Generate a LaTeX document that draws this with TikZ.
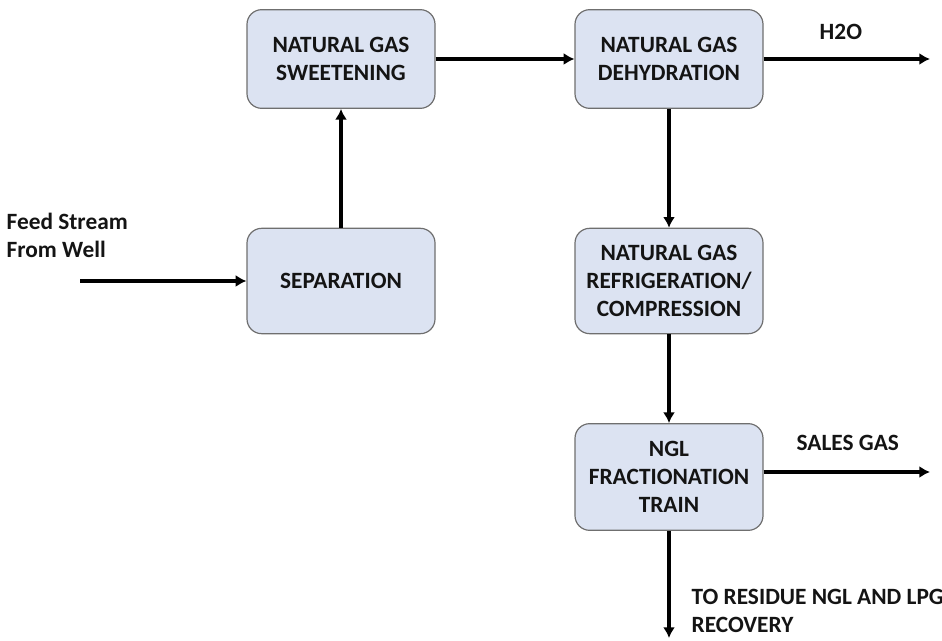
\documentclass[tikz,border=0pt]{standalone}
\usepackage{fontspec}
\setmainfont{Carlito}
\usepackage{tikz}
\usetikzlibrary{arrows.meta}
\definecolor{boxfill}{HTML}{DCE3F2}
\definecolor{boxline}{HTML}{6F6F6F}
\definecolor{ink}{HTML}{141414}
\tikzset{
  unit/.style={draw=boxline, fill=boxfill, line width=0.9pt, rounded corners=11pt, minimum width=141pt, minimum height=74pt, align=center, text=ink, font=\fontsize{17.5}{21}\selectfont\bfseries},
  flow/.style={line width=3pt, -{Latex[length=8pt,width=9pt]}},
  tag/.style={align=left, anchor=west, text=ink, font=\fontsize{17.5}{21}\selectfont\bfseries}
}
\begin{document}
\begin{tikzpicture}[x=0.75pt, y=-0.75pt]
    \useasboundingbox (0,0) rectangle (942,641);
    % Draw the process units
    \node[unit] (sweet) at (341,59) {NATURAL GAS\\SWEETENING};
    \node[unit] (dehyd) at (669,59) {NATURAL GAS\\DEHYDRATION};
    \node[unit, minimum height=79pt] (sep) at (341,281) {SEPARATION};
    \node[unit, minimum height=79pt] (refrig) at (669,281) {NATURAL GAS\\REFRIGERATION/\\COMPRESSION};
    \node[unit, minimum height=80pt] (ngl) at (669,477) {NGL\\FRACTIONATION\\TRAIN};

    % Free ends of the streams
    \coordinate (feed) at (80,281);
    \coordinate (water) at (930,59);
    \coordinate (sales) at (930,472);
    \coordinate (residue) at (669,638);

    % Draw stream labels
    \node[tag] (feedtxt) at (2,235) {Feed Stream\\From Well};
    \node[tag] (watertxt) at (815,32) {H2O};
    \node[tag] (salestxt) at (792,443) {SALES GAS};
    \node[tag] (residuetxt) at (687,611) {TO RESIDUE NGL AND LPG\\RECOVERY};

    % Draw the streams between units
    \draw[flow] (feed) -- (sep.west);
    \draw[flow] (sep.north) -- (sweet.south);
    \draw[flow] (sweet.east) -- (dehyd.west);
    \draw[flow] (dehyd.east) -- (water);
    \draw[flow] (dehyd.south) -- (refrig.north);
    \draw[flow] (refrig.south) -- (ngl.north);
    \draw[flow] (ngl.east |- sales) -- (sales);
    \draw[flow] (ngl.south) -- (residue);
\end{tikzpicture}
\end{document}
